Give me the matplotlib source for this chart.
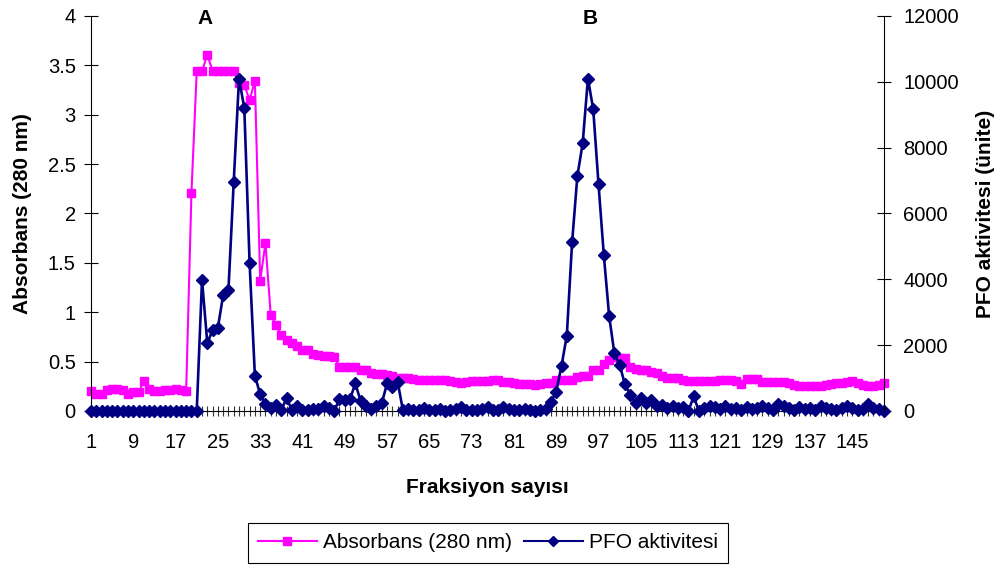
import numpy as np
import matplotlib
matplotlib.use("Agg")
import matplotlib.pyplot as plt
from matplotlib.lines import Line2D

plt.rcParams["font.family"] = ["Liberation Sans", "DejaVu Sans"]

# Absorbans (280 nm), fractions 1..151
absorbans = [
    0.20, 0.17, 0.17, 0.21, 0.22, 0.22, 0.21, 0.17, 0.19, 0.19,
    0.30, 0.22, 0.20, 0.20, 0.21, 0.21, 0.22, 0.21, 0.20,
    2.21, 3.44, 3.44, 3.61, 3.44, 3.44, 3.44, 3.44, 3.44, 3.32, 3.30,
    3.15, 3.34, 1.32, 1.70, 0.97, 0.87, 0.77, 0.72, 0.69,
    0.66, 0.62, 0.62, 0.58, 0.57, 0.56, 0.56, 0.55, 0.45, 0.45, 0.45,
    0.45, 0.42, 0.41, 0.38,
    0.37, 0.37, 0.36, 0.35, 0.33, 0.33, 0.33, 0.32, 0.31, 0.31, 0.31,
    0.31, 0.31, 0.31, 0.30, 0.29, 0.28, 0.29, 0.30, 0.30, 0.30, 0.30,
    0.31, 0.31, 0.29, 0.29, 0.28, 0.27, 0.27, 0.27, 0.26, 0.27, 0.28,
    0.28, 0.31, 0.31, 0.31, 0.31, 0.34, 0.35, 0.35, 0.41, 0.42, 0.48,
    0.52, 0.55, 0.54, 0.54, 0.45, 0.43, 0.42, 0.41, 0.39, 0.38, 0.35,
    0.33, 0.33, 0.33, 0.31, 0.30, 0.30,
    0.30, 0.30, 0.30, 0.30, 0.31, 0.31, 0.31, 0.30, 0.27, 0.32,
    0.32, 0.32, 0.29, 0.29, 0.29, 0.29, 0.29, 0.28, 0.26, 0.25,
    0.25, 0.25, 0.25, 0.25, 0.26, 0.27, 0.28, 0.28, 0.29, 0.30,
    0.28, 0.26, 0.25, 0.25, 0.26, 0.28,
]

# PFO aktivitesi (ünite), fractions 1..151
pfo = [0] * 21 + [
    3980, 2060, 2460, 2530, 3520, 3680, 6970, 10100, 9200, 4490,
    1070, 510, 210, 90, 180, 30, 390, 30, 150, 20,
    20, 60, 60, 150, 100, 0, 360, 330, 360, 840,
    300, 150, 50, 150, 230, 840, 730, 890,
    20, 60, 30, 40, 80, 30, 20, 50, 10, 40,
    60, 120, 40, 30, 20, 50, 120, 40, 20, 110,
    60, 40, 30, 70, 20, 10, 30, 60,
    280, 590, 1370, 2290, 5120, 7140, 8130, 10100, 9160, 6890,
    4740, 2900, 1750, 1400, 810, 490, 250, 400, 250, 330,
    150, 180, 100, 150, 100, 120, 0, 440, 0,
    80, 150, 120, 60, 140, 50, 100, 20, 130, 60,
    100, 160, 90, 40, 200, 150, 80, 30, 120, 60,
    90, 40, 150, 100, 60, 30, 100, 150, 80, 40,
    60, 200, 100, 50, 0,
]

fraksiyon = np.arange(1, len(absorbans) + 1)
label_step = 8

PINK = "#FF00FF"
NAVY = "#000080"

fig = plt.figure(figsize=(10, 5.65), dpi=100)
ax = fig.add_axes([0.091, 0.2726, 0.793, 0.6991])
ax2 = ax.twinx()

ax.plot(fraksiyon, absorbans, color=PINK, lw=1.5, marker="s", ms=6.3,
        label="Absorbans (280 nm)", clip_on=False)
ax2.plot(fraksiyon, pfo, color=NAVY, lw=1.9, marker="D", ms=6.3,
         label="PFO aktivitesi", clip_on=False)

ax.set_xlim(1, len(fraksiyon))
ax.set_ylim(0, 4)
ax2.set_ylim(0, 12000)

ax.set_xticks(fraksiyon)
ax.set_xticklabels([str(v) if (v - 1) % label_step == 0 else "" for v in fraksiyon])
ax.set_yticks(np.arange(0, 4.01, 0.5))
ax.set_yticklabels([f"{v:g}" for v in np.arange(0, 4.01, 0.5)])
ax2.set_yticks(np.arange(0, 12001, 2000))

ax.tick_params(axis="x", direction="inout", length=7, width=0.8, color="#333333",
               labelsize=14.5, pad=12)
ax.tick_params(axis="y", direction="inout", length=10, width=0.8, labelsize=14.5, pad=6)
ax2.tick_params(axis="y", direction="inout", length=10, width=0.8, labelsize=14.5, pad=9)

for a in (ax, ax2):
    a.spines["top"].set_visible(False)
ax.spines["right"].set_visible(False)
ax2.spines["left"].set_visible(False)
ax2.spines["bottom"].set_visible(False)

ax.set_xlabel("Fraksiyon sayısı", fontsize=15, fontweight="bold", labelpad=19)
ax.set_ylabel("Absorbans (280 nm)", fontsize=15, fontweight="bold", labelpad=11)
ax2.set_ylabel("PFO aktivitesi (ünite)", fontsize=15, fontweight="bold", labelpad=12)

fig.text(0.205, 0.968, "A", fontsize=15, fontweight="bold", ha="center", va="center")
fig.text(0.590, 0.968, "B", fontsize=15, fontweight="bold", ha="center", va="center")

handles = [
    Line2D([], [], color=PINK, lw=1.5, marker="s", ms=6),
    Line2D([], [], color=NAVY, lw=1.5, marker="D", ms=5),
]
leg = fig.legend(handles, ["Absorbans (280 nm)", "PFO aktivitesi"], ncol=2,
                 loc="center", bbox_to_anchor=(0.488, 0.039), fontsize=15,
                 frameon=True, fancybox=False, edgecolor="black", framealpha=1,
                 handlelength=2.8, handletextpad=0.3, columnspacing=0.6,
                 borderpad=0.5)
leg.get_frame().set_linewidth(0.8)

fig.savefig("out.png", dpi=100)
